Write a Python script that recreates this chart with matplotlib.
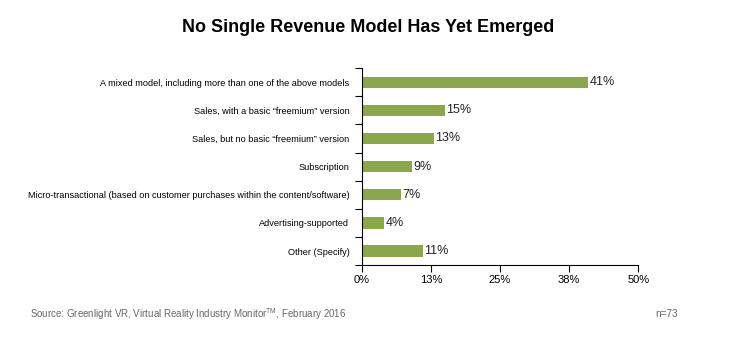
import matplotlib
matplotlib.use('Agg')
import matplotlib.pyplot as plt
import numpy as np

plt.rcParams['font.family'] = ['Liberation Sans', 'DejaVu Sans']
plt.rcParams['mathtext.fontset'] = 'custom'
plt.rcParams['mathtext.rm'] = 'Liberation Sans'

categorias = [
    'A mixed model, including more than one of the above models',
    'Sales, with a basic \u201cfreemium\u201d version',
    'Sales, but no basic \u201cfreemium\u201d version',
    'Subscription',
    'Micro-transactional (based on customer purchases within the content/software)',
    'Advertising-supported',
    'Other (Specify)',
]
valores = [41, 15, 13, 9, 7, 4, 11]
ticks_x = [0, 12.5, 25, 37.5, 50]
rotulos_x = ['0%', '13%', '25%', '38%', '50%']

fig = plt.figure(figsize=(7.37, 3.53), dpi=100)
ax = fig.add_axes([0.491, 0.249, 0.375, 0.558])

y = np.arange(len(categorias))
ax.barh(y, valores, height=0.4, color='#8aa84b', edgecolor='none')
for yi, v in zip(y, valores):
    ax.text(v + 0.3, yi, f'{v}%', va='center', ha='left', fontsize=9, color='#222222')

ax.set_ylim(len(categorias) - 0.5, -0.5)
ax.set_xlim(0, 50)
ax.set_yticks(y)
ax.set_yticklabels(categorias, fontsize=6.6)
ax.tick_params(axis='y', which='major', length=0, pad=9)
ax.set_yticks(np.arange(-0.5, len(categorias)), minor=True)
ax.tick_params(axis='y', which='minor', length=5, width=0.8)
ax.set_xticks(ticks_x)
ax.set_xticklabels(rotulos_x, fontsize=8)
ax.tick_params(axis='x', length=5, width=0.8, pad=2)

ax.spines['top'].set_visible(False)
ax.spines['right'].set_visible(False)

fig.text(0.5, 0.923, 'No Single Revenue Model Has Yet Emerged', ha='center', va='center',
         fontsize=13, fontweight='bold')
fig.text(0.041, 0.11, r'Source: Greenlight VR, Virtual Reality Industry Monitor$^{\mathrm{TM}}$, February 2016',
         ha='left', va='center', fontsize=7, color='#666666')
fig.text(0.889, 0.11, 'n=73', ha='left', va='center', fontsize=7.2, color='#666666')

fig.savefig('out.png', dpi=100)
